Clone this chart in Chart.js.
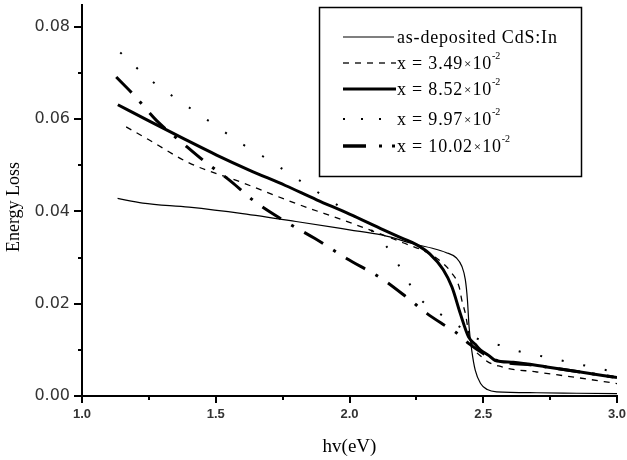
<!DOCTYPE html>
<html><head><meta charset="utf-8">
<script src="https://cdn.jsdelivr.net/npm/chart.js@4/dist/chart.umd.min.js"></script>
<style>html,body{margin:0;padding:0;background:#fff}canvas{display:block}</style>
</head><body>
<canvas id="c" width="627" height="460"></canvas>
<script>
// ---- data ----
const legendMain = ['as-deposited CdS:In', 'x = 3.49', 'x = 8.52', 'x = 9.97', 'x = 10.02'];
const legendPow = [null, '-2', '-2', '-2', '-2'];

const hvAsDep   = [1.133, 1.227, 1.4, 1.6, 1.8, 2.0, 2.12, 2.25, 2.31, 2.36, 2.40, 2.42, 2.433, 2.441, 2.447, 2.457, 2.47, 2.49, 2.515, 2.55, 2.7, 2.85, 3.0];
const lossAsDep = [0.0428, 0.0418, 0.0409, 0.0395, 0.0378, 0.0360, 0.0349, 0.0328, 0.0320, 0.0311, 0.0299, 0.0281, 0.0252, 0.0207, 0.0150, 0.0099, 0.0056, 0.0027, 0.0014, 0.0009, 0.0007, 0.0006, 0.0005];

const hvX349   = [1.165, 1.25, 1.4, 1.6, 1.8, 2.0, 2.2, 2.3, 2.34, 2.38, 2.41, 2.42, 2.433, 2.45, 2.5, 2.57, 2.7, 2.85, 3.0];
const lossX349 = [0.0583, 0.0555, 0.0505, 0.0462, 0.0417, 0.0376, 0.0332, 0.0308, 0.0292, 0.0268, 0.0236, 0.0207, 0.0179, 0.0125, 0.0082, 0.0063, 0.0052, 0.0040, 0.0027];

const hvX852   = [1.134, 1.25, 1.378, 1.503, 1.627, 1.76, 1.877, 2.0, 2.127, 2.2, 2.25, 2.3, 2.35, 2.383, 2.414, 2.445, 2.47, 2.489, 2.52, 2.545, 2.612, 2.738, 2.863, 2.987];
const lossX852 = [0.0631, 0.0596, 0.0558, 0.0522, 0.0489, 0.0456, 0.0425, 0.0394, 0.0360, 0.0341, 0.0328, 0.0308, 0.0274, 0.0236, 0.0179, 0.0128, 0.0112, 0.0100, 0.0088, 0.0077, 0.0073, 0.0063, 0.0052, 0.0041];

const hvX997   = [1.143, 1.259, 1.378, 1.471, 1.596, 1.696, 1.821, 1.946, 2.05, 2.133, 2.177, 2.214, 2.252, 2.283, 2.376, 2.45, 2.501, 2.564, 2.626, 2.72, 2.848, 2.976];
const lossX997 = [0.0744, 0.0683, 0.0634, 0.0597, 0.0547, 0.0512, 0.0464, 0.0417, 0.0375, 0.0328, 0.0290, 0.0253, 0.0218, 0.0200, 0.0164, 0.0135, 0.0117, 0.0110, 0.0098, 0.0086, 0.0070, 0.0054];

const hvX1002   = [1.128, 1.197, 1.278, 1.378, 1.452, 1.559, 1.64, 1.752, 1.871, 1.989, 2.121, 2.22, 2.289, 2.345, 2.395, 2.445, 2.5, 2.55, 2.7, 2.85, 3.0];
const lossX1002 = [0.0691, 0.0650, 0.0597, 0.0547, 0.0511, 0.0464, 0.0424, 0.0381, 0.0341, 0.0298, 0.0254, 0.0211, 0.0179, 0.0157, 0.0139, 0.0114, 0.0092, 0.0077, 0.0066, 0.0053, 0.0040];

const xTickLabels = ['1.0', '1.5', '2.0', '2.5', '3.0'];
const yTickLabels = ['0.00', '0.02', '0.04', '0.06', '0.08'];

// ---- build ----
const pts = (xs, ys) => xs.map((x, i) => ({x: x, y: ys[i]}));
const styles = [
  {w: 1.2, dash: []},
  {w: 1.3, dash: [6, 6]},
  {w: 3, dash: []},
  {w: 2, dash: [2, 20]},
  {w: 3, dash: [22, 12, 3, 12]}
];
const seriesX = [hvAsDep, hvX349, hvX852, hvX997, hvX1002];
const seriesY = [lossAsDep, lossX349, lossX852, lossX997, lossX1002];

const datasets = seriesX.map((xs, i) => ({
  label: legendMain[i],
  data: pts(xs, seriesY[i]),
  borderColor: '#000',
  borderWidth: styles[i].w,
  borderDash: styles[i].dash,
  pointRadius: 0,
  fill: false,
  cubicInterpolationMode: 'monotone'
}));

const serif = '"Liberation Serif", "Times New Roman", serif';

const decor = {
  id: 'decor',
  afterDraw(chart) {
    const ctx = chart.ctx, xs = chart.scales.x, ys = chart.scales.y;
    const a = chart.chartArea;
    ctx.save();
    ctx.strokeStyle = '#000';
    ctx.lineWidth = 2;
    // x ticks (outward)
    for (let k = 0; k <= 8; k++) {
      const v = 1 + k * 0.25;
      const px = Math.round(xs.getPixelForValue(v));
      const len = (k % 2 === 0) ? 7 : 4;
      ctx.beginPath(); ctx.moveTo(px, a.bottom); ctx.lineTo(px, a.bottom + len); ctx.stroke();
    }
    // y ticks (outward)
    for (let k = 0; k <= 8; k++) {
      const v = k * 0.01;
      const py = Math.round(ys.getPixelForValue(v));
      const len = (k % 2 === 0) ? 8 : 4;
      ctx.beginPath(); ctx.moveTo(a.left, py); ctx.lineTo(a.left - len, py); ctx.stroke();
    }
    // axis titles
    ctx.fillStyle = '#000';
    ctx.font = '19px ' + serif;
    ctx.textAlign = 'center'; ctx.textBaseline = 'middle';
    ctx.fillText('hv(eV)', (a.left + a.right) / 2, 447);
    ctx.save();
    ctx.translate(14, 207);
    ctx.rotate(-Math.PI / 2);
    ctx.font = '18px ' + serif;
    ctx.fillText('Energy Loss', 0, 0);
    ctx.restore();

    // legend box
    ctx.fillStyle = '#fff';
    ctx.fillRect(319, 7, 263, 170);
    ctx.lineWidth = 1.5;
    ctx.strokeRect(319.5, 7.5, 262, 169);
    const rows = [37, 63, 89, 119, 146];
    const x0 = 343, x1 = 394;
    rows.forEach((y, i) => {
      ctx.save();
      ctx.strokeStyle = '#000'; ctx.fillStyle = '#000';
      if (i === 0) {
        ctx.lineWidth = 1.2; ctx.beginPath(); ctx.moveTo(x0, y); ctx.lineTo(x1, y); ctx.stroke();
      } else if (i === 1) {
        ctx.lineWidth = 1.3; ctx.setLineDash([6, 6]); ctx.beginPath(); ctx.moveTo(x0, y); ctx.lineTo(x1 + 2, y); ctx.stroke();
      } else if (i === 2) {
        ctx.lineWidth = 3; ctx.beginPath(); ctx.moveTo(x0, y); ctx.lineTo(x1 + 2, y); ctx.stroke();
      } else if (i === 3) {
        [343, 361, 379].forEach(d => ctx.fillRect(d, y - 1, 2, 2));
      } else {
        ctx.lineWidth = 3.5; ctx.beginPath(); ctx.moveTo(x0, y); ctx.lineTo(366, y); ctx.stroke();
        ctx.fillRect(379, y - 1.5, 3, 3);
        ctx.fillRect(392, y - 1.5, 3, 3);
      }
      // text
      ctx.textAlign = 'left'; ctx.textBaseline = 'middle';
      ctx.font = '18px ' + serif;
      ctx.letterSpacing = '0.8px';
      let tx = 397;
      const ty = y + 1;
      ctx.fillText(legendMain[i], tx, ty);
      if (legendPow[i]) {
        tx += ctx.measureText(legendMain[i]).width + 1;
        ctx.font = '13px ' + serif; ctx.letterSpacing = '0px';
        ctx.fillText('\u00d7', tx, ty + 1);
        tx += ctx.measureText('\u00d7').width + 1;
        ctx.font = '18px ' + serif; ctx.letterSpacing = '0.8px';
        ctx.fillText('10', tx, ty);
        tx += ctx.measureText('10').width;
        ctx.font = '10px ' + serif; ctx.letterSpacing = '0px';
        ctx.fillText(legendPow[i], tx, ty - 8);
      }
      ctx.restore();
    });
    ctx.restore();
  }
};

new Chart(document.getElementById('c'), {
  type: 'line',
  data: { datasets: datasets },
  options: {
    responsive: false,
    devicePixelRatio: 1,
    animation: false,
    layout: { padding: { top: 5, right: 10, left: 0, bottom: 0 } },
    plugins: { legend: { display: false }, tooltip: { enabled: false } },
    scales: {
      x: {
        type: 'linear', min: 1.0, max: 3.0,
        grid: { display: false, drawTicks: false },
        border: { display: true, color: '#000', width: 2 },
        afterFit(s) { s.height = 64; s.paddingLeft = 0; s.paddingRight = 0; },
        ticks: {
          stepSize: 0.5, padding: 11, color: '#333', maxRotation: 0,
          font: { family: '"Liberation Sans", Arial, sans-serif', size: 13, weight: 'bold' },
          callback: (v) => { const i = Math.round((v - 1) / 0.5); return (Math.abs(v - 1 - i * 0.5) < 1e-6) ? xTickLabels[i] : ''; }
        }
      },
      y: {
        type: 'linear', min: 0, max: 0.0847,
        grid: { display: false, drawTicks: false },
        border: { display: true, color: '#000', width: 2 },
        afterFit(s) { s.width = 82; s.paddingTop = 0; s.paddingBottom = 0; },
        ticks: {
          stepSize: 0.02, padding: 12, includeBounds: false, color: '#333',
          font: { family: '"DejaVu Sans", sans-serif', size: 16 },
          callback: (v) => { const i = Math.round(v / 0.02); return (Math.abs(v - i * 0.02) < 1e-6 && yTickLabels[i]) ? yTickLabels[i] : ''; }
        }
      }
    }
  },
  plugins: [decor]
});
</script>
</body></html>
